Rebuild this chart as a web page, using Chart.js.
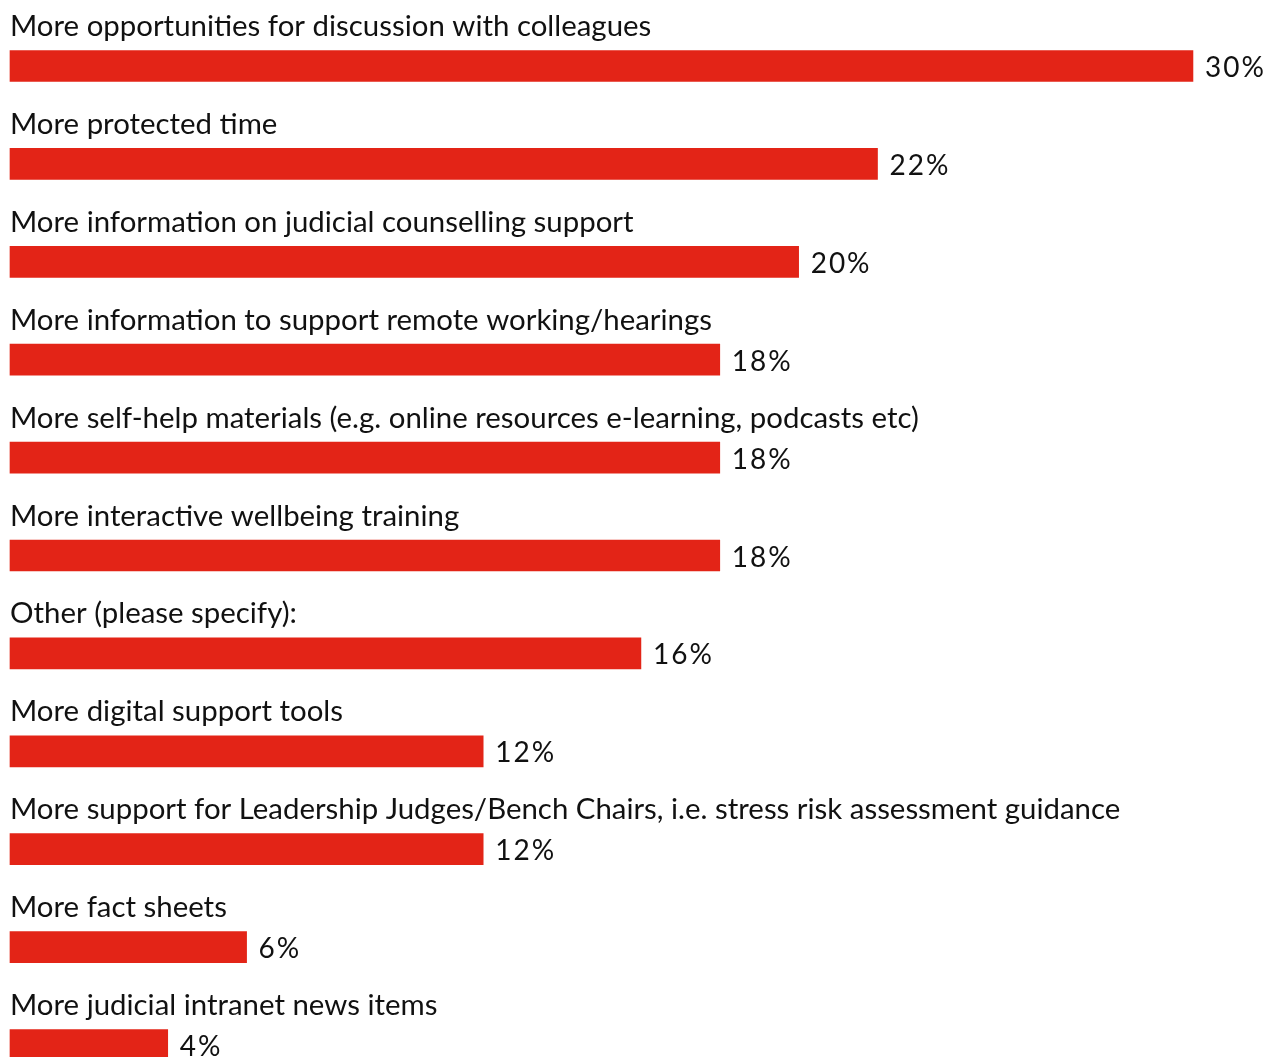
<!DOCTYPE html>
<html lang="en">

<head>
    <meta charset="UTF-8">
    <title>Support wanted</title>
    <style>
        html, body {
            margin: 0;
            padding: 0;
            background: #ffffff;
        }

        #wrap {
            width: 1273px;
            height: 1057px;
            position: relative;
        }
    </style>
</head>

<body>
    <div id="wrap">
        <canvas id="supportChart"></canvas>
    </div>

    <script src="https://cdn.jsdelivr.net/npm/chart.js"></script>
    <script>
        // Survey answers, in the order they are listed
        const categories = [
            'More opportunities for discussion with colleagues',
            'More protected time',
            'More information on judicial counselling support',
            'More information to support remote working/hearings',
            'More self-help materials (e.g. online resources e-learning, podcasts etc)',
            'More interactive wellbeing training',
            'Other (please specify):',
            'More digital support tools',
            'More support for Leadership Judges/Bench Chairs, i.e. stress risk assessment guidance',
            'More fact sheets',
            'More judicial intranet news items'
        ];
        const percentages = [30, 22, 20, 18, 18, 18, 16, 12, 12, 6, 4];

        const FONT = 'Lato, "Open Sans", sans-serif';

        // Writes the answer text above each bar and the percentage after it
        const barLabels = {
            id: 'barLabels',
            afterDatasetsDraw(chart) {
                const ctx = chart.ctx;
                const meta = chart.getDatasetMeta(0);
                const left = chart.chartArea.left;
                ctx.save();
                ctx.fillStyle = '#111111';
                meta.data.forEach((bar, i) => {
                    ctx.font = '29.4px ' + FONT;
                    ctx.letterSpacing = '0px';
                    ctx.textAlign = 'left';
                    ctx.textBaseline = 'alphabetic';
                    ctx.fillText(categories[i], left, bar.y - 30);

                    ctx.font = '28px ' + FONT;
                    ctx.letterSpacing = '2px';
                    ctx.textBaseline = 'middle';
                    const txt = percentages[i] + '%';
                    ctx.fillText(txt, bar.x + 12, bar.y + 2);
                });
                ctx.restore();
            }
        };

        const ctx = document.getElementById('supportChart').getContext('2d');
        new Chart(ctx, {
            type: 'bar',
            data: {
                labels: categories,
                datasets: [{
                    data: percentages,
                    backgroundColor: '#e32417',
                    borderWidth: 0,
                    barThickness: 31,
                    clip: false
                }]
            },
            options: {
                indexAxis: 'y',
                responsive: true,
                maintainAspectRatio: false,
                animation: false,
                layout: {
                    padding: { left: 10, right: 0, top: 66, bottom: 12 }
                },
                scales: {
                    x: {
                        display: false,
                        min: 0,
                        max: 32.03
                    },
                    y: {
                        display: false,
                        offset: false
                    }
                },
                plugins: {
                    legend: { display: false },
                    tooltip: { enabled: false }
                }
            },
            plugins: [barLabels]
        });
    </script>
</body>

</html>
